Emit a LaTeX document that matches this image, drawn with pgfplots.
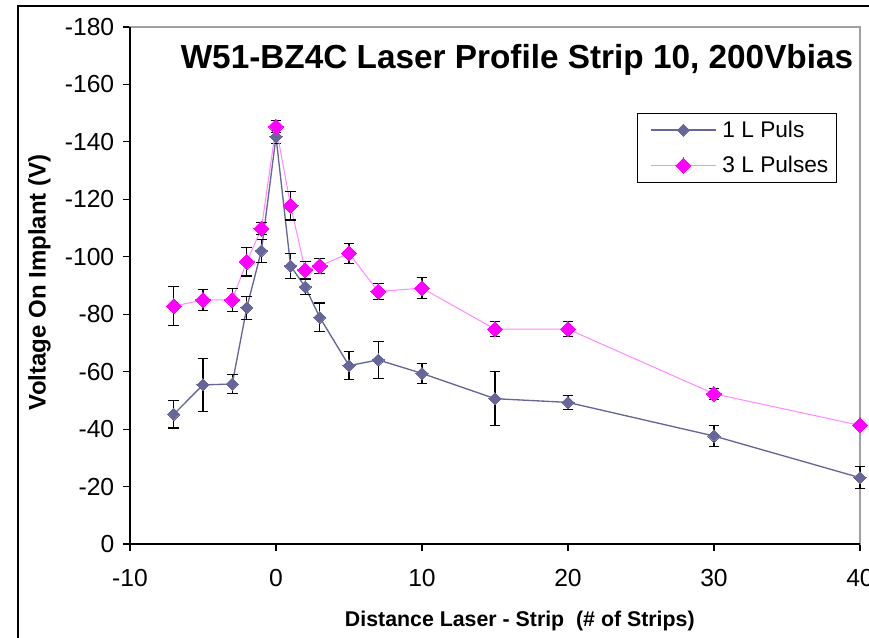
\documentclass[border=0pt]{standalone}
\usepackage{pgfplots}
\usepackage{pgfplotstable}
\pgfplotsset{compat=1.18}
\usepackage{fontspec}
\setmainfont{Liberation Sans}

\definecolor{pulsone}{HTML}{666699}
\definecolor{pulsthree}{HTML}{FF00FF}
\definecolor{pulsthreeline}{HTML}{FF88FF}
\definecolor{frame}{HTML}{A0A0A0}

% x = strip distance, y = voltage on implant, e = error
\pgfplotstableread{
x    y       e
-7   -45.2   4.8
-5   -55.4   9.3
-3   -55.7   3.3
-2   -82.3   4.0
-1   -102.1  4.0
0    -141.8  2.3
1    -96.8   4.5
2    -89.5   2.5
3    -78.9   5.0
5    -62.1   4.8
7    -64.1   6.5
10   -59.4   3.5
15   -50.6   9.4
20   -49.3   2.5
30   -37.6   3.8
40   -23.1   3.8
}\onepulse

\pgfplotstableread{
x    y       e
-7   -82.8   6.7
-5   -85.0   3.7
-3   -85.0   3.9
-2   -98.3   5.0
-1   -109.8  2.0
0    -145.3  2.1
1    -117.8  5.0
2    -95.4   2.9
3    -96.8   2.7
5    -101.2  3.4
7    -87.9   2.9
10   -89.1   3.6
15   -74.8   2.7
20   -74.8   2.7
30   -52.3   2.0
40   -41.3   1.0
}\threepulses

% pixel helper: (column, row) measured from the top-left corner
\newcommand{\pxy}[2]{({#1*0.75pt},{-#2*0.75pt})}

\begin{document}
\begin{tikzpicture}
\useasboundingbox \pxy{0}{0} rectangle \pxy{869}{638};
\fill[white] \pxy{0}{0} rectangle \pxy{869}{638};
\draw[black, line width=1.1pt] \pxy{18}{645} -- \pxy{18}{6} -- \pxy{880}{6};

\begin{axis}[
  scale only axis,
  width=547.5pt, height=387.75pt,
  at={(97.5pt,-408pt)}, anchor=south west,
  clip=false,
  xmin=-10, xmax=40,
  ymin=-180, ymax=0, y dir=reverse,
  xtick={-10,0,10,20,30,40},
  ytick={-180,-160,-140,-120,-100,-80,-60,-40,-20,0},
  tick align=outside, xtick pos=bottom, ytick pos=left,
  major tick length=5pt,
  tick style={black, line width=0.8pt},
  axis line style={draw=frame, line width=0.8pt},
  /pgf/number format/assume math mode=true,
  ticklabel style={font=\fontsize{18.5}{22}\selectfont},
  xticklabel style={yshift=-10.5pt},
  yticklabel style={xshift=-3.3pt},
  xlabel={Distance Laser - Strip\ \ (\# of Strips)},
  ylabel={Voltage On Implant (V)},
  xlabel style={font=\bfseries\fontsize{16}{20}\selectfont,
    at={(axis description cs:0.534,-0.149)}, anchor=center},
  ylabel style={font=\bfseries\fontsize{18}{22}\selectfont,
    at={(axis description cs:-0.124,0.506)}, anchor=center},
  legend style={at={(axis description cs:0.6945,0.8337)}, anchor=north west,
    draw=black, line width=0.75pt, font=\fontsize{17}{20}\selectfont,
    inner xsep=4pt, inner ysep=3.5pt, row sep=8.75pt},
  legend cell align=left,
  legend image code/.code={
    \path[draw=none, fill=none] (0pt,-1pt) rectangle (57.75pt,1pt);
    \draw[mark repeat=2, mark phase=2, #1]
      plot coordinates {(6pt,0pt) (30.4pt,0pt) (54.75pt,0pt)};},
  error bars/error bar style={black, line width=0.8pt},
  error bars/error mark options={rotate=90, mark size=4pt, black, line width=0.8pt},
]
\addplot[color=pulsone, line width=1pt, mark=square*,
  mark options={rotate=45, mark size=3.2pt, fill=pulsone, draw=pulsone, line width=0pt},
  error bars/.cd, y dir=both, y explicit]
  table[x=x, y=y, y error=e] {\onepulse};
\addlegendentry{1 L Puls}
\addplot[color=pulsthreeline, line width=0.75pt, mark=square*,
  mark options={rotate=45, mark size=4pt, fill=pulsthree, draw=pulsthree, line width=0pt},
  error bars/.cd, y dir=both, y explicit]
  table[x=x, y=y, y error=e] {\threepulses};
\addlegendentry{3 L Pulses}
\end{axis}

% left and bottom axis lines in black over the grey plot frame
\draw[black, line width=0.9pt] \pxy{130}{27} -- \pxy{130}{544} -- \pxy{860}{544};

\node[font=\bfseries\fontsize{25}{30}\selectfont] at \pxy{517}{60}
  {W51-BZ4C Laser Profile Strip 10, 200Vbias};
\end{tikzpicture}
\end{document}
